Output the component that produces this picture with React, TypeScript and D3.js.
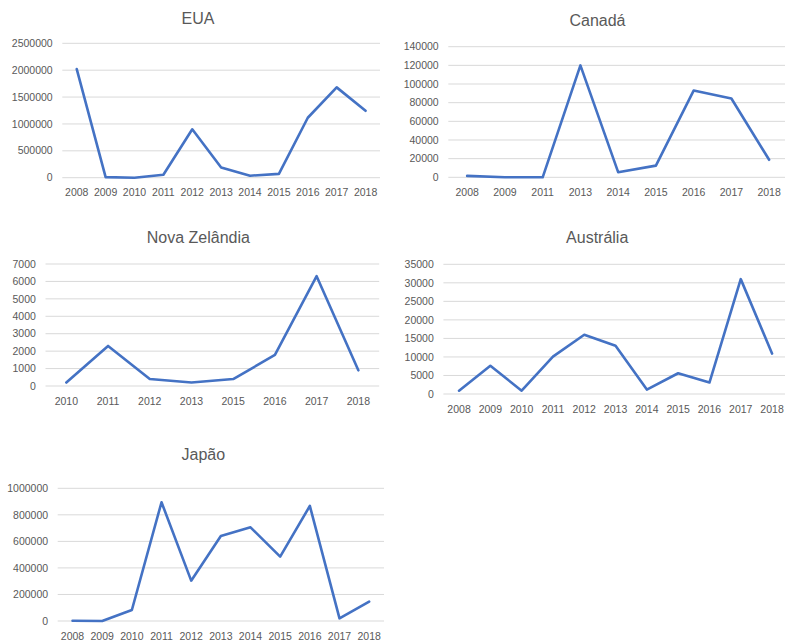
import React from "react";
import * as d3 from "d3";

// ---- Data ----
const euaYears = ["2008", "2009", "2010", "2011", "2012", "2013", "2014", "2015", "2016", "2017", "2018"];
const euaValues = [2020000, 10000, 0, 55000, 900000, 190000, 37000, 72000, 1115000, 1680000, 1245000];
const euaTicks = [0, 500000, 1000000, 1500000, 2000000, 2500000];

const canadaYears = ["2008", "2009", "2011", "2013", "2014", "2015", "2016", "2017", "2018"];
const canadaValues = [1500, 0, 0, 120000, 5500, 12500, 93000, 84500, 18800];
const canadaTicks = [0, 20000, 40000, 60000, 80000, 100000, 120000, 140000];

const nzYears = ["2010", "2011", "2012", "2013", "2015", "2016", "2017", "2018"];
const nzValues = [200, 2300, 400, 200, 400, 1780, 6300, 900];
const nzTicks = [0, 1000, 2000, 3000, 4000, 5000, 6000, 7000];

const ausYears = ["2008", "2009", "2010", "2011", "2012", "2013", "2014", "2015", "2016", "2017", "2018"];
const ausValues = [900, 7600, 900, 10100, 16000, 13000, 1200, 5600, 3100, 31000, 10900];
const ausTicks = [0, 5000, 10000, 15000, 20000, 25000, 30000, 35000];

const japanYears = ["2008", "2009", "2010", "2011", "2012", "2013", "2014", "2015", "2016", "2017", "2018"];
const japanValues = [2000, 0, 83000, 895000, 304000, 640000, 706000, 485000, 867000, 20000, 146000];
const japanTicks = [0, 200000, 400000, 600000, 800000, 1000000];

const titles = ["EUA", "Canadá", "Nova Zelândia", "Austrália", "Japão"];

// ---- Layout (positions only) ----
const panels = [
  { title: titles[0], cats: euaYears, vals: euaValues, ticks: euaTicks, left: 62.3, right: 380, top: 43.3, bottom: 177.7, tx: 198, ty: 23.5 },
  { title: titles[1], cats: canadaYears, vals: canadaValues, ticks: canadaTicks, left: 448.3, right: 788, top: 46.7, bottom: 177.3, tx: 597.5, ty: 26 },
  { title: titles[2], cats: nzYears, vals: nzValues, ticks: nzTicks, left: 45.5, right: 379.2, top: 264, bottom: 386, tx: 198.3, ty: 243.3 },
  { title: titles[3], cats: ausYears, vals: ausValues, ticks: ausTicks, left: 443.4, right: 787.7, top: 264.3, bottom: 394, tx: 597.2, ty: 242.7 },
  { title: titles[4], cats: japanYears, vals: japanValues, ticks: japanTicks, left: 57.7, right: 384, top: 488.3, bottom: 621, tx: 203.3, ty: 460 },
];

const FONT = "'Liberation Sans', Arial, sans-serif";
const TEXT = "#595959";
const GRID = "#D9D9D9";
const LINE = "#4472C4";

function Panel({ p }: { p: (typeof panels)[number] }) {
  const x = d3.scalePoint<string>().domain(p.cats).range([p.left, p.right]).padding(0.5);
  const y = d3.scaleLinear().domain([0, p.ticks[p.ticks.length - 1]]).range([p.bottom, p.top]);
  const line = d3
    .line<number>()
    .x((_, i) => x(p.cats[i]) as number)
    .y((d) => y(d));
  const gridRight = Math.min(p.right, 785);
  return (
    <g>
      <text x={p.tx} y={p.ty} textAnchor="middle" fontFamily={FONT} fontSize={16} fill={TEXT}>
        {p.title}
      </text>
      {p.ticks.map((t) => (
        <g key={t}>
          <line x1={p.left} x2={gridRight} y1={y(t)} y2={y(t)} stroke={GRID} strokeWidth={1} />
          <text
            x={p.left - 9.6}
            y={y(t)}
            dy="0.35em"
            textAnchor="end"
            fontFamily={FONT}
            fontSize={10.5}
            fill={TEXT}
          >
            {String(t)}
          </text>
        </g>
      ))}
      {p.cats.map((c) => (
        <text
          key={c}
          x={x(c) as number}
          y={p.bottom + 15}
          dy="0.35em"
          textAnchor="middle"
          fontFamily={FONT}
          fontSize={10.5}
          fill={TEXT}
        >
          {c}
        </text>
      ))}
      <path d={line(p.vals) || ""} fill="none" stroke={LINE} strokeWidth={2.6} strokeLinejoin="round" strokeLinecap="round" />
    </g>
  );
}

export default function App() {
  return (
    <svg
      width={785}
      height={641}
      style={{ position: "absolute", left: 0, top: 0, background: "#ffffff" }}
    >
      <rect width={785} height={641} fill="#ffffff" />
      {panels.map((p) => (
        <Panel key={p.title} p={p} />
      ))}
    </svg>
  );
}
